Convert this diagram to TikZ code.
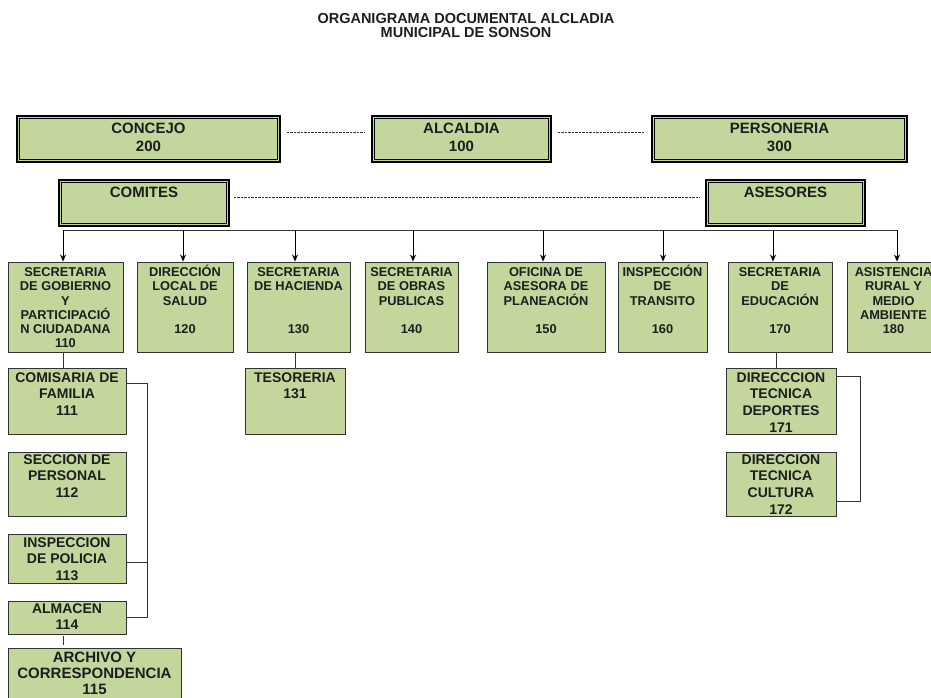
\documentclass[tikz,border=0pt]{standalone}
\usepackage{fontspec}
\setmainfont{Liberation Sans}
\usetikzlibrary{arrows.meta}
\definecolor{boxgreen}{HTML}{C3D69B}
\definecolor{ink}{HTML}{1E1E1E}
\definecolor{edge}{HTML}{333333}
\newcommand\firsth[1]{\rule{0pt}{#1}}
\newcommand\lastd[1]{\rule[-#1]{0pt}{0pt}}
\begin{document}
\begin{tikzpicture}[x=1pt,y=-1pt,
  every node/.style={inner sep=0pt, text=ink},
  topbox/.style={draw=black, line width=1.6pt, fill=boxgreen, align=center,
    font=\bfseries\fontsize{15}{18}\selectfont,
    path picture={\draw[black,line width=0.7pt]
      ([xshift=2.6pt,yshift=-2.6pt]path picture bounding box.north west) rectangle
      ([xshift=-2.6pt,yshift=2.6pt]path picture bounding box.south east);}},
  deptbox/.style={draw=edge, line width=0.9pt, fill=boxgreen, align=center,
    minimum height=90pt, font=\bfseries\fontsize{12.8}{14.2}\selectfont},
  subbox/.style={draw=edge, line width=0.9pt, fill=boxgreen, align=center,
    font=\bfseries\fontsize{14}{16.8}\selectfont},
  link/.style={draw=edge, line width=0.8pt},
  dashlink/.style={draw=edge, line width=0.8pt, dash pattern=on 2.5pt off 1pt},
  arrowlink/.style={draw=black, line width=1pt, -{Stealth[length=7pt,width=6pt]}}
]
\useasboundingbox (0,0) rectangle (931,698);
\clip (0,0) rectangle (931,698);
\fill[white] (0,0) rectangle (931,698);

% title
\node[font=\bfseries\fontsize{14.5}{14}\selectfont, align=center] (title) at (466,26)
  {ORGANIGRAMA DOCUMENTAL ALCLADIA\\MUNICIPAL DE SONSON};

% top row
\node[topbox, minimum width=263pt, minimum height=46pt] (concejo) at (148.5,139) {\strut CONCEJO\\200\strut};
\node[topbox, minimum width=179pt, minimum height=46pt] (alcaldia) at (461.5,139) {\strut ALCALDIA\\100\strut};
\node[topbox, minimum width=255pt, minimum height=46pt] (personeria) at (779.5,139) {\strut PERSONERIA\\300\strut};

\draw[dashlink, shorten <=6pt, shorten >=6pt] ([yshift=7pt]concejo.east) -- ([yshift=7pt]alcaldia.west);
\draw[dashlink, shorten <=6pt, shorten >=6pt] ([yshift=7pt]alcaldia.east) -- ([yshift=7pt]personeria.west);

% second row
\node[topbox, minimum width=170pt, minimum height=46pt] (comites) at (144,203) {\strut COMITES\\\strut};
\node[topbox, minimum width=159pt, minimum height=46pt] (asesores) at (785.5,203) {\strut ASESORES\\\strut};
\draw[dashlink, shorten <=4pt, shorten >=5pt] ([yshift=6pt]comites.east) -- ([yshift=6pt]asesores.west);

% department boxes
\node[deptbox, minimum width=115pt] (b1) at (65.5,307)
  {\firsth{12.5pt}SECRETARIA\\DE GOBIERNO\\Y\\PARTICIPACIÓ\\N CIUDADANA\\110\lastd{2.3pt}};
\node[deptbox, minimum width=96pt] (b2) at (185,307)
  {\firsth{12.5pt}DIRECCIÓN\\LOCAL DE\\SALUD\\\strut\\120\\\mbox{}\lastd{2.3pt}};
\node[deptbox, minimum width=103pt] (b3) at (298.5,307)
  {\firsth{12.5pt}SECRETARIA\\DE HACIENDA\\\strut\\\strut\\130\\\mbox{}\lastd{2.3pt}};
\node[deptbox, minimum width=93pt] (b4) at (411.5,307)
  {\firsth{12.5pt}SECRETARIA\\DE OBRAS\\PUBLICAS\\\strut\\140\\\mbox{}\lastd{2.3pt}};
\node[deptbox, minimum width=118pt] (b5) at (546,307)
  {\firsth{12.5pt}OFICINA DE\\ASESORA DE\\PLANEACIÓN\\\strut\\150\\\mbox{}\lastd{2.3pt}};
\node[deptbox, minimum width=89pt] (b6) at (662.5,307)
  {\firsth{12.5pt}INSPECCIÓN\\DE\\TRANSITO\\\strut\\160\\\mbox{}\lastd{2.3pt}};
\node[deptbox, minimum width=104pt] (b7) at (780,307)
  {\firsth{12.5pt}SECRETARIA\\DE\\EDUCACIÓN\\\strut\\170\\\mbox{}\lastd{2.3pt}};
\node[deptbox, minimum width=93pt] (b8) at (893.5,307)
  {\firsth{12.5pt}ASISTENCIA\\RURAL Y\\MEDIO\\AMBIENTE\\180\\\mbox{}\lastd{2.3pt}};

% bus and arrows
\coordinate (t1) at (63,230);
\coordinate (t2) at (183,230);
\coordinate (t3) at (295,230);
\coordinate (t4) at (413,230);
\coordinate (t5) at (543,230);
\coordinate (t6) at (663,230);
\coordinate (t7) at (773,230);
\coordinate (t8) at (897,230);
\draw[link] (t1) -- (t8);
\foreach \i in {1,...,8} {\draw[arrowlink] (t\i) -- (t\i |- b\i.north);}

% sub-units of Gobierno
\node[subbox, minimum width=118pt, minimum height=66pt] (b111) at (67,401)
  {\firsth{12.4pt}COMISARIA DE\\FAMILIA\\111\\\mbox{}};
\node[subbox, minimum width=118pt, minimum height=64pt] (b112) at (67,484)
  {\firsth{11.4pt}SECCION DE\\PERSONAL\\112\\\mbox{}\lastd{1pt}};
\node[subbox, minimum width=118pt, minimum height=49pt] (b113) at (67,558.5)
  {\firsth{11.6pt}INSPECCION\\DE POLICIA\\113\lastd{1pt}};
\node[subbox, minimum width=118pt, minimum height=33pt] (b114) at (67,617.5)
  {\firsth{11pt}ALMACEN\\114\lastd{3.2pt}};
\node[subbox, minimum width=173pt, minimum height=55pt, font=\bfseries\fontsize{15}{16}\selectfont] (b115) at (94.5,676)
  {\firsth{11.5pt}ARCHIVO Y\\CORRESPONDENCIA\\115\lastd{7.5pt}};

\draw[link] (t1 |- b1.south) -- (t1 |- b111.north);
\draw[link] ([yshift=-16pt]b111.north east) -- ++(21,0) |- (b114.east);
\draw[link] ([yshift=-4pt]b113.east) -- ++(21,0);
\draw[link, shorten <=2pt, shorten >=3pt] (t1 |- b114.south) -- (t1 |- b115.north);

% Hacienda
\node[subbox, minimum width=100pt, minimum height=66pt] (b131) at (295,401)
  {\firsth{12.4pt}TESORERIA\\131\\\strut\\\mbox{}};
\draw[link] (t3 |- b3.south) -- (t3 |- b131.north);

% Educacion
\node[subbox, minimum width=110pt, minimum height=66pt] (b171) at (781,401)
  {\firsth{12.4pt}DIRECCCION\\TECNICA\\DEPORTES\\171};
\node[subbox, minimum width=110pt, minimum height=64pt] (b172) at (781,484)
  {\firsth{11.4pt}DIRECCION\\TECNICA\\CULTURA\\172\lastd{1pt}};
\draw[link] ([xshift=-5pt]b171.north) -- ([xshift=-5pt]b171.north |- b7.south);
\draw[link] ([yshift=-9pt]b171.north east) -- ++(24,0) |- ([yshift=15pt]b172.south east);
\end{tikzpicture}
\end{document}
